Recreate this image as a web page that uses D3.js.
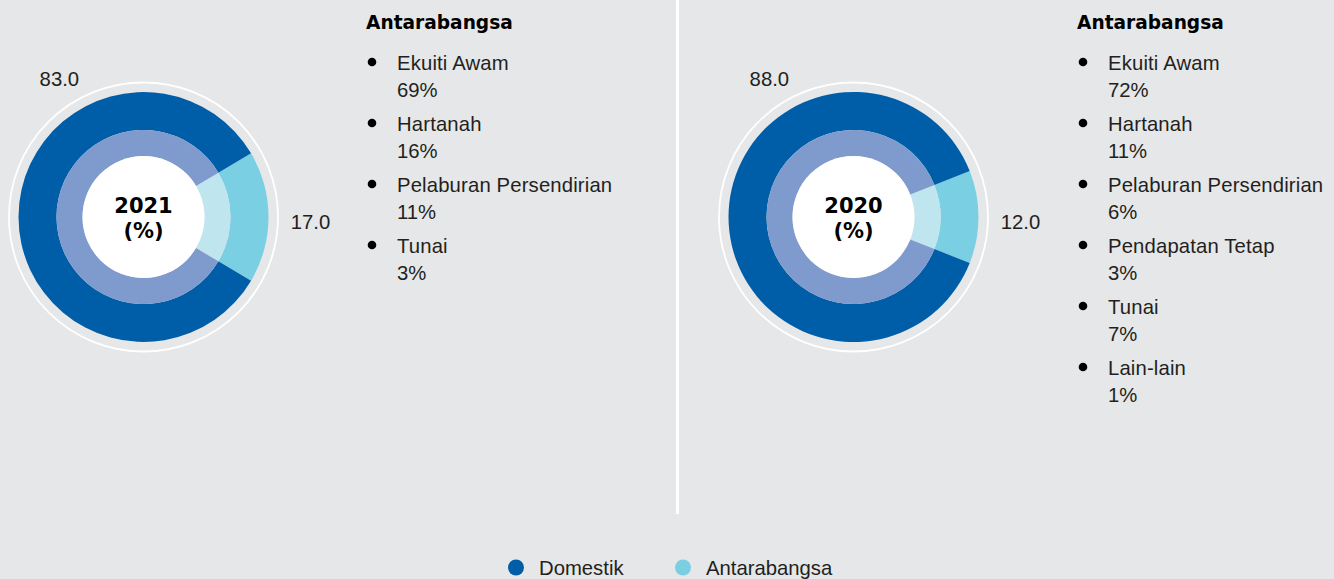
<!DOCTYPE html>
<html>
<head>
<meta charset="utf-8">
<script src="https://cdn.jsdelivr.net/npm/d3@7"></script>
<style>
  html, body { margin: 0; padding: 0; background: #e6e7e9; }
  svg { display: block; }
  text { font-family: "Liberation Sans", Arial, sans-serif; }
</style>
</head>
<body>
<svg id="chart" width="1334" height="579"></svg>
<script>
// ---- data ----
const years = ["2021", "2020"];
const seriesNames = ["Domestik", "Antarabangsa"];
const domesticValues = [83.0, 88.0];
const internationalValues = [17.0, 12.0];

const breakdownTitle = "Antarabangsa";
const categories2021 = ["Ekuiti Awam", "Hartanah", "Pelaburan Persendirian", "Tunai"];
const values2021 = [69, 16, 11, 3];
const categories2020 = ["Ekuiti Awam", "Hartanah", "Pelaburan Persendirian", "Pendapatan Tetap", "Tunai", "Lain-lain"];
const values2020 = [72, 11, 6, 3, 7, 1];

// ---- styles ----
const outerColors = ["#005ea9", "#7bcfe2"];
const innerColors = ["#7f9bcd", "#bfe5ee"];
const textColor = "#231f20";
const fmt = d3.format(".1f");
const bodyFont = "20.3px";

const svg = d3.select("#chart");
const W = 1334, H = 579;

svg.append("rect").attr("width", W).attr("height", H).attr("fill", "#e6e7e9");

// divider
svg.append("rect").attr("x", 676).attr("y", 0).attr("width", 3).attr("height", 514).attr("fill", "#ffffff");

const panels = [
  { year: years[0], dom: domesticValues[0], intl: internationalValues[0], cats: categories2021, vals: values2021, cx: 143.5, legendX: 366 },
  { year: years[1], dom: domesticValues[1], intl: internationalValues[1], cats: categories2020, vals: values2020, cx: 853.5, legendX: 1077 }
];
const cy = 217;

const rCenter = 61, rInner = 87, rOuter = 125, rRing = 134.5;

panels.forEach(p => {
  const g = svg.append("g").attr("transform", `translate(${p.cx},${cy})`);
  const data = [
    { name: seriesNames[1], value: p.intl, i: 1 },
    { name: seriesNames[0], value: p.dom, i: 0 }
  ];
  const total = p.intl + p.dom;
  const intlAngle = 2 * Math.PI * p.intl / total;
  const pie = d3.pie().sort(null).value(d => d.value)
    .startAngle(Math.PI / 2 - intlAngle / 2)
    .endAngle(Math.PI / 2 - intlAngle / 2 + 2 * Math.PI);
  const arcs = pie(data);

  g.append("circle").attr("r", rRing).attr("fill", "none").attr("stroke", "#ffffff").attr("stroke-width", 1.8);

  const outerArc = d3.arc().innerRadius(rInner).outerRadius(rOuter);
  const innerArc = d3.arc().innerRadius(rCenter).outerRadius(rInner);

  g.selectAll("path.outer").data(arcs).join("path")
    .attr("class", "outer").attr("d", outerArc).attr("fill", d => outerColors[d.data.i]);
  g.selectAll("path.inner").data(arcs).join("path")
    .attr("class", "inner").attr("d", innerArc).attr("fill", d => innerColors[d.data.i]);

  g.append("circle").attr("r", rCenter).attr("fill", "#ffffff");

  g.append("text").attr("x", 0).attr("y", -4).attr("text-anchor", "middle")
    .style("font-family", "'DejaVu Sans', sans-serif").style("font-weight", "bold")
    .style("font-size", "21px").attr("fill", "#000").text(p.year);
  g.append("text").attr("x", 0).attr("y", 21).attr("text-anchor", "middle")
    .style("font-family", "'DejaVu Sans', sans-serif").style("font-weight", "bold")
    .style("font-size", "21px").attr("fill", "#000").text("(%)");

  // value labels
  const domLabelAngle = -31.3 * Math.PI / 180, domLabelR = 162;
  g.append("text")
    .attr("x", domLabelR * Math.sin(domLabelAngle))
    .attr("y", -domLabelR * Math.cos(domLabelAngle) + 7)
    .attr("text-anchor", "middle").style("font-size", bodyFont).attr("fill", textColor)
    .text(fmt(p.dom));
  const intlArc = arcs.find(a => a.data.i === 1);
  const midA = (intlArc.startAngle + intlArc.endAngle) / 2;
  const labR = 167;
  g.append("text")
    .attr("x", labR * Math.sin(midA))
    .attr("y", -labR * Math.cos(midA) + 12)
    .attr("text-anchor", "middle").style("font-size", bodyFont).attr("fill", textColor)
    .text(fmt(p.intl));

  // breakdown legend
  const lg = svg.append("g").attr("transform", `translate(${p.legendX},0)`);
  lg.append("text").attr("x", 0).attr("y", 29)
    .style("font-family", "'DejaVu Sans', sans-serif").style("font-weight", "bold")
    .style("font-size", "18.6px").attr("fill", "#000").text(breakdownTitle);
  const items = lg.selectAll("g.item").data(p.cats.map((c, i) => ({ c, v: p.vals[i], i })))
    .join("g").attr("class", "item").attr("transform", d => `translate(0,${d.i * 61})`);
  items.append("circle").attr("cx", 6).attr("cy", 62).attr("r", 4.3).attr("fill", "#000");
  items.append("text").attr("x", 31).attr("y", 69.5).style("font-size", bodyFont).style("letter-spacing", "0.15px").attr("fill", textColor).text(d => d.c);
  items.append("text").attr("x", 31).attr("y", 96.5).style("font-size", bodyFont).attr("fill", textColor).text(d => d.v + "%");
});

// bottom legend
const legendItems = [
  { name: seriesNames[0], color: outerColors[0], x: 516 },
  { name: seriesNames[1], color: outerColors[1], x: 683 }
];
const bl = svg.append("g");
const li = bl.selectAll("g").data(legendItems).join("g");
li.append("circle").attr("cx", d => d.x).attr("cy", 567.5).attr("r", 8).attr("fill", d => d.color);
li.append("text").attr("x", d => d.x + 23).attr("y", 574.5).style("font-size", bodyFont).attr("fill", textColor).text(d => d.name);
</script>
</body>
</html>
